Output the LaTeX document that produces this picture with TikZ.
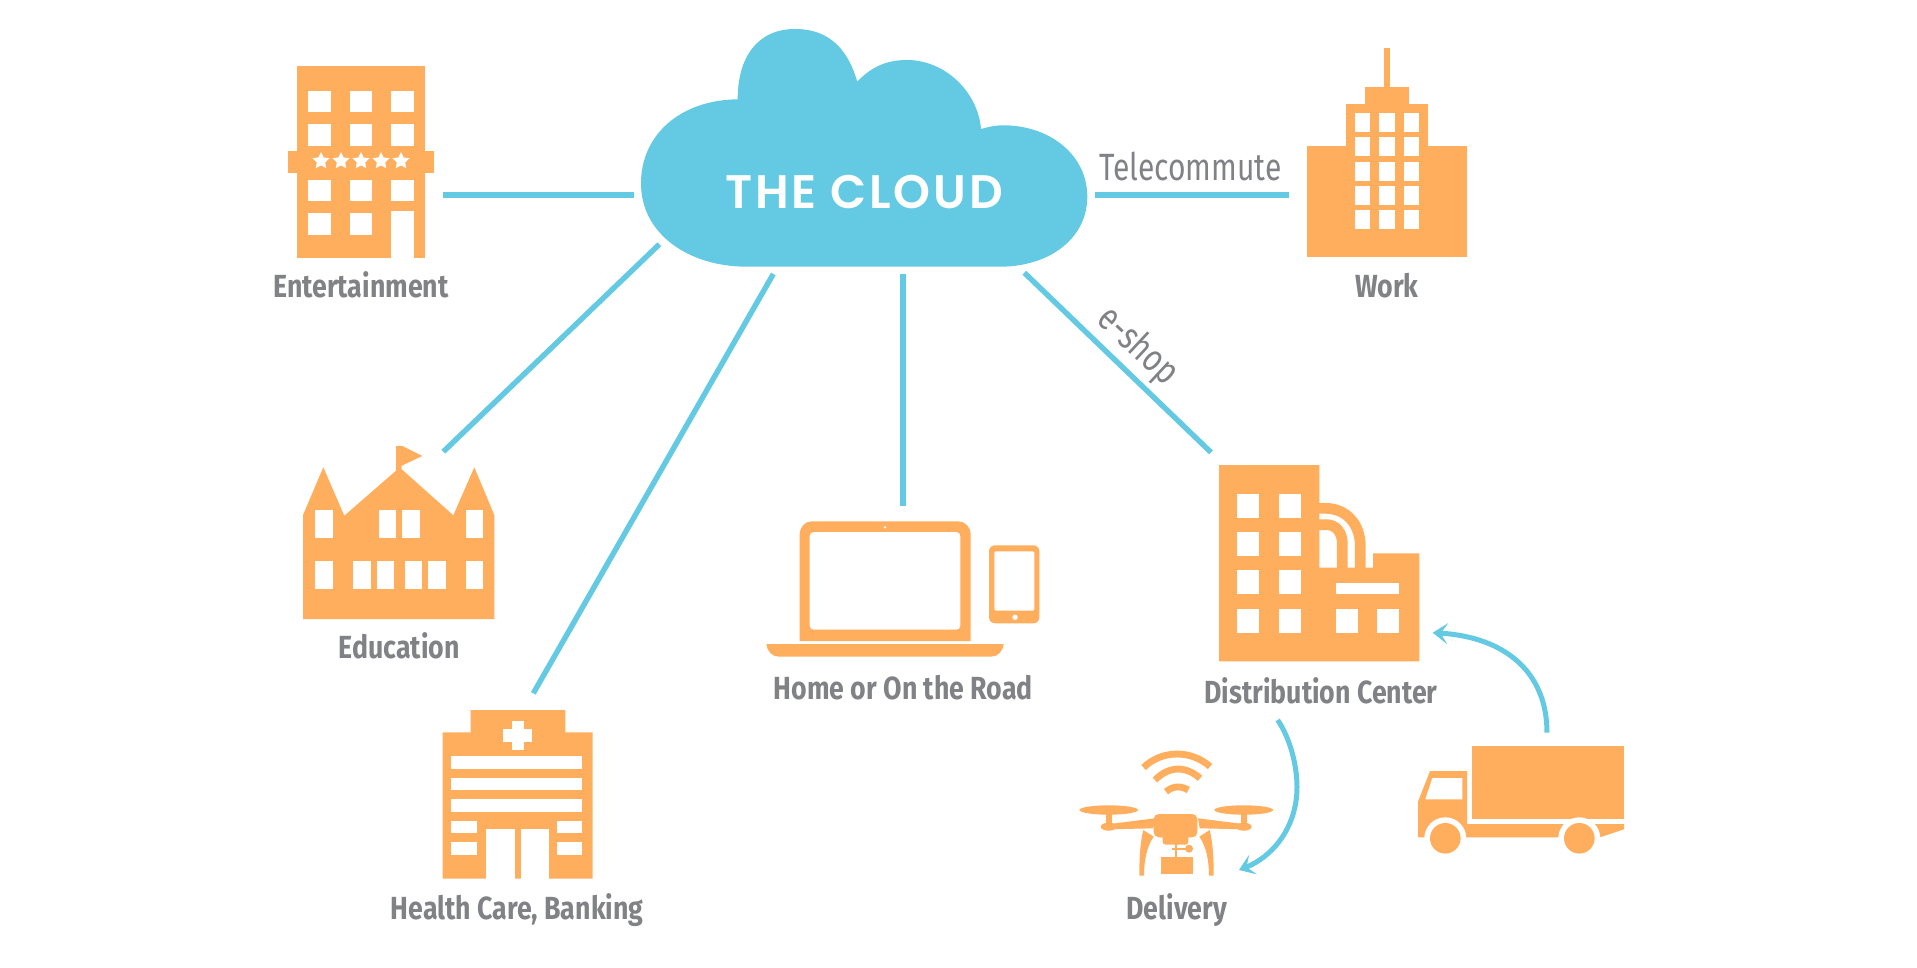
\documentclass[tikz,border=0pt]{standalone}
\usepackage{fontspec}
\usetikzlibrary{arrows.meta,shapes.geometric}
\setmainfont{Fira Sans}
\newfontfamily\labfont[FakeStretch=0.835]{Fira Sans}
\newfontfamily\lightfont[FakeStretch=0.79]{Fira Sans}
\newfontfamily\cloudfont[LetterSpace=6]{Poppins SemiBold}
\definecolor{orng}{HTML}{FFAE5D}
\definecolor{sky}{HTML}{64C9E2}
\definecolor{txt}{HTML}{808285}
\tikzset{
  icon/.style={fill=orng,draw=none},
  hole/.style={fill=white,draw=none},
  link/.style={draw=sky,line width=5.4pt},
  curved link/.style={draw=sky,line width=5pt,-{Stealth[length=15pt,width=21pt,inset=7pt]}},
  lab/.style={text=txt,inner sep=0pt,text height=22pt,text depth=0pt,font=\labfont\fontsize{32}{32}\selectfont\bfseries},
  thin lab/.style={text=txt,inner sep=0pt,text height=26pt,text depth=0pt,font=\lightfont\fontsize{38}{38}\selectfont},
  fivestar/.style={star,star points=5,star point ratio=2.05,fill=white,draw=none,minimum size=18pt,inner sep=0pt},
  pipe/.style={draw=orng,line width=10.7pt},
  wifi/.style={draw=orng,line width=6.8pt},
}
\begin{document}
\begin{tikzpicture}[x=1pt,y=-1pt]
\useasboundingbox (0,0) rectangle (1917,968);
\fill[white] (0,0) rectangle (1917,968);

% Cloud
\fill[sky] (737.7,99.3)
  .. controls (737.5,58) and (757,29) .. (795,29)
  .. controls (830,29) and (848,50) .. (857.3,81.7)
  .. controls (872,66) and (888,60) .. (907,60)
  .. controls (945,60) and (978,92) .. (981,129)
  .. controls (988,127) and (995,125.3) .. (1003,125.3)
  .. controls (1050,125.3) and (1087.3,155) .. (1087.3,196.7)
  .. controls (1087.3,238) and (1050,266.7) .. (1000,266.7)
  -- (746.7,266.7)
  .. controls (690,266.7) and (641,235) .. (641,183.3)
  .. controls (641,135) and (680,100) .. (737.7,99.3) -- cycle;
\node[text=white,inner sep=0pt,text height=33pt,text depth=0pt,font=\cloudfont\fontsize{47}{47}\selectfont] (cloud) at (864,192) {THE CLOUD};

% Connector ends
\coordinate (cEnt) at (634,195);
\coordinate (ent) at (443,195);
\coordinate (cWork) at (1095,195);
\coordinate (wrk) at (1289,195);
\coordinate (cEdu) at (659.3,244.3);
\coordinate (edu) at (443.3,451.7);
\coordinate (cHealth) at (773.3,274);
\coordinate (hlt) at (533.3,693.3);
\coordinate (cHome) at (903,274);
\coordinate (hom) at (903,506);
\coordinate (cDist) at (1024.3,272.7);
\coordinate (dst) at (1211,452.4);
\coordinate (trk) at (1547,732.7);
\coordinate (dstR) at (1432.7,632.7);
\coordinate (dstB) at (1277.6,720);
\coordinate (drn) at (1239,870);

\draw[link] (cEnt) -- (ent);
\draw[link] (cWork) -- (wrk);
\draw[link] (cEdu) -- (edu);
\draw[link] (cHealth) -- (hlt);
\draw[link] (cHome) -- (hom);
\draw[link] (cDist) -- (dst);
\draw[curved link] (trk) .. controls (1547,672) and (1505,637) .. (dstR);
\draw[curved link] (dstB) .. controls (1290,738) and (1297,765) .. (1297,787) .. controls (1297,828) and (1272,857) .. (drn);

% Entertainment
\fill[icon] (296.7,65.7) rectangle (425.3,258);
\fill[icon] (288,151) rectangle (434,172.7);
\foreach \a/\b in {308/330.7,349.7/372.3,391.3/414}
  \foreach \c/\d in {90.7/112.3,123.7/145.7,179.7/201.3}
    \fill[hole] (\a,\c) rectangle (\b,\d);
\foreach \a/\b in {308/330.7,349.7/372.3}
  \fill[hole] (\a,213) rectangle (\b,234.7);
\fill[hole] (391.3,211.3) rectangle (414,258.5);
\foreach \i/\x in {1/321,2/341,3/361,4/381,5/401}
  \node[fivestar] (star\i) at (\x,161) {};
\node[lab] (entlab) at (361,286.7) {Entertainment};

% Education
\fill[icon] (303,619) -- (303,515) -- (323.3,467.3) -- (344.3,515.7) -- (396,470.7) -- (396,446) -- (402.3,446) -- (422.3,456) -- (401.7,465.7) -- (401.7,469.3) -- (453.3,515.3) -- (474.3,467.3) -- (494.3,515) -- (494.3,619) -- cycle;
\foreach \a/\b in {315/332.7,379/396.3,402/419.7,465.7/483.3}
  \fill[hole] (\a,510.3) rectangle (\b,538.3);
\foreach \a/\b in {315/332.7,353.3/371,376.7/394,405/422.3,428.3/445.7,465.7/483.3}
  \fill[hole] (\a,561) rectangle (\b,589);
\node[lab] (edulab) at (399.2,647.7) {Education};

% Health
\fill[icon] (442.7,878.7) -- (442.7,732.3) -- (470.7,732.3) -- (470.7,710) -- (565.3,710) -- (565.3,732.3) -- (592.7,732.3) -- (592.7,878.7) -- cycle;
\fill[hole] (512,721.3) rectangle (524,750);
\fill[hole] (503.3,729.3) rectangle (532.3,741.7);
\foreach \c/\d in {756.3/768.7,778/790,799.3/811.7}
  \fill[hole] (451.3,\c) rectangle (582.3,\d);
\foreach \c/\d in {821/833.3,842.3/854.7}{
  \fill[hole] (451.3,\c) rectangle (477,\d);
  \fill[hole] (557,\c) rectangle (582.3,\d);
}
\fill[hole] (486.3,829) rectangle (515.3,879);
\fill[hole] (520.7,829) rectangle (549.3,879);
\node[lab] (hltlab) at (517.2,908) {Health Care, Banking};

% Laptop and tablet
\fill[icon] (799.7,641) -- (799.7,534) .. controls (799.7,527) and (805,521.3) .. (812,521.3) -- (958,521.3) .. controls (965,521.3) and (970.7,527) .. (970.7,534) -- (970.7,641) -- cycle;
\fill[hole,rounded corners=4pt] (809.7,532) rectangle (960.3,629.7);
\fill[hole] (885,527.3) circle (1.3);
\fill[icon] (766.3,644) -- (1003.7,644) .. controls (1003,651) and (998,656.7) .. (991,656.7) -- (779,656.7) .. controls (772,656.7) and (767,651) .. (766.3,644) -- cycle;
\fill[icon,rounded corners=6pt] (989,545.3) rectangle (1039.3,623.3);
\fill[hole,rounded corners=1.5pt] (994.3,551.3) rectangle (1034.3,610.7);
\fill[hole] (1015,617.3) circle (2.7);
\node[lab] (homlab) at (903.3,688.3) {Home or On the Road};

% Work
\fill[icon] (1384,48.3) rectangle (1390.3,87);
\fill[icon] (1365,86.7) rectangle (1409.3,105);
\fill[icon] (1346.3,104.3) rectangle (1428,147);
\fill[icon] (1307.3,146.3) rectangle (1466.7,256.7);
\foreach \a/\b in {1355/1370.3,1379.3/1395,1404/1419.3}
  \foreach \c/\d in {113/132,137.3/156.3,162/181,186/205,210.3/229.3}
    \fill[hole] (\a,\c) rectangle (\b,\d);
\node[lab] (wrklab) at (1387,286.7) {Work};
\node[thin lab] (telelab) at (1190.5,167.8) {Telecommute};
\node[thin lab,rotate=-43] (shoplab) at (1139,345) {e-shop};

% Distribution center
\fill[icon] (1219,465) -- (1319.3,465) -- (1319.3,567.7) -- (1373,567.7) -- (1373,553.3) -- (1419.3,553.3) -- (1419.3,661.3) -- (1219,661.3) -- cycle;
\draw[pipe] (1319,508.3) -- (1325,508.3) .. controls (1347,508.3) and (1360.3,525) .. (1360.3,546) -- (1360.3,568);
\draw[pipe] (1319,524.7) -- (1327,524.7) .. controls (1336,524.7) and (1342.3,533) .. (1342.3,543) -- (1342.3,568);
\foreach \a/\b in {1237/1259.3,1278.7/1301}
  \foreach \c/\d in {494.3/518.3,532.3/556.3,570.3/594.3,608.7/632.7}
    \fill[hole] (\a,\c) rectangle (\b,\d);
\fill[hole] (1335.7,583) rectangle (1399.3,594.3);
\fill[hole] (1335.7,608.7) rectangle (1357.7,632.7);
\fill[hole] (1377.3,608.7) rectangle (1399.3,632.7);
\node[lab] (dstlab) at (1321,692) {Distribution Center};

% Drone
\draw[wifi] (1143.5,767.5) .. controls (1162,749.7) and (1191,749.7) .. (1210,766.5);
\draw[wifi] (1155,780) .. controls (1169,765.7) and (1186,765.7) .. (1200,778.3);
\draw[wifi] (1166,791.7) .. controls (1173,785.7) and (1181,785.7) .. (1188.3,790);
\foreach \x in {1108.7,1243.7}{
  \fill[icon] (\x,810) ellipse [x radius=29.3,y radius=4.7];
  \fill[icon] (\x-3,810) rectangle (\x+3,826);
  \fill[icon] (\x,826.7) ellipse [x radius=8,y radius=4];
}
\fill[icon] (1110,824) -- (1155,818.3) -- (1153.3,828.3) -- (1110,829.3) -- cycle;
\fill[icon] (1243,824) -- (1198,818.3) -- (1199.7,828.3) -- (1243,829.3) -- cycle;
\fill[icon,rounded corners=5pt] (1153.7,814) rectangle (1197.3,837.3);
\fill[icon,rounded corners=3pt] (1162.7,830) rectangle (1188.3,844.7);
\fill[icon] (1143.3,830) .. controls (1140,843) and (1139.3,860) .. (1139.3,875.7) -- (1144,875.7) .. controls (1144,860) and (1147,846) .. (1153.7,836.7) -- cycle;
\fill[icon] (1209.7,830) .. controls (1213,843) and (1213.7,860) .. (1213.7,875.7) -- (1209,875.7) .. controls (1209,860) and (1206,846) .. (1199.3,836.7) -- cycle;
\fill[icon] (1161,857) rectangle (1193,874.3);
\fill[icon] (1175,844) rectangle (1177,857);
\fill[icon] (1172.3,847.7) rectangle (1186,849.7);
\fill[icon] (1189,848.7) circle (4);
\node[lab] (drnlab) at (1176.7,908) {Delivery};

% Truck
\fill[icon] (1472.3,746.3) rectangle (1624.3,819.3);
\fill[icon] (1418,837.3) -- (1418,801.7) -- (1430,771) -- (1467,771) -- (1467,824) -- (1624,824) -- (1624,829.3) -- (1600,837.3) -- cycle;
\fill[hole] (1432.3,778) -- (1462.3,778) -- (1462.3,799.3) -- (1425.3,799.3) -- cycle;
\fill[hole] (1445.3,838.3) circle (21);
\fill[hole] (1579.3,838.3) circle (21);
\fill[icon] (1445.3,838.3) circle (15.3);
\fill[icon] (1579.3,838.3) circle (15.3);
\end{tikzpicture}
\end{document}
